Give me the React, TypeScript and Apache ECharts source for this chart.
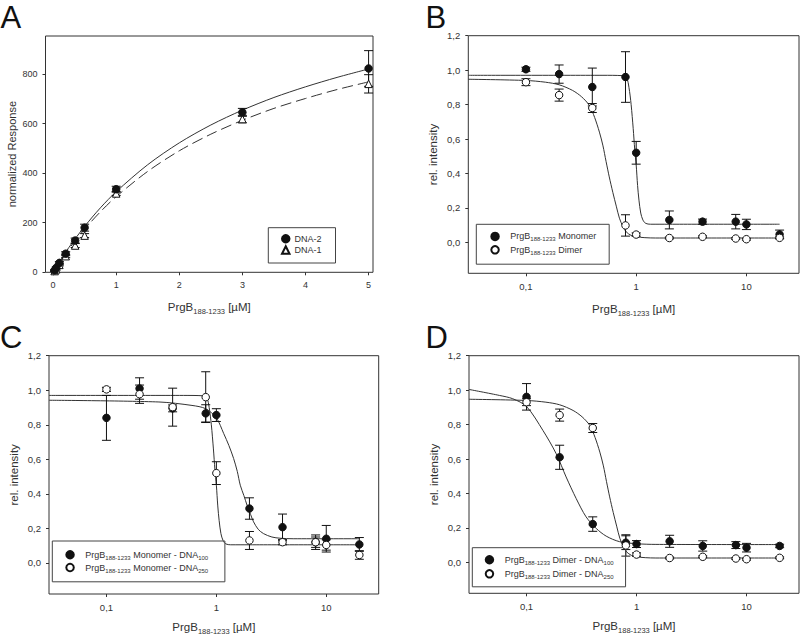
import React, { useEffect, useRef } from "react";
import * as echarts from "echarts";

// ---------- Panel A (linear) ----------
const aX = [0.025, 0.05, 0.1, 0.2, 0.35, 0.5, 1, 3, 5];
const aDNA2 = [8, 18, 38, 75, 128, 180, 335, 645, 822];
const aDNA2Err = [3, 3, 5, 8, 10, 14, 12, 16, 72];
const aDNA1 = [5, 12, 30, 65, 108, 148, 318, 618, 760];
const aDNA1Err = [2, 3, 4, 6, 8, 8, 8, 15, 37];
const aFitX = [0, 0.1, 0.25, 0.5, 0.75, 1, 1.5, 2, 2.5, 3, 3.5, 4, 4.5, 5];
const aFitDNA2 = [0, 42, 100, 185, 260, 325, 434, 522, 594, 654, 705, 748, 786, 820];
const aFitDNA1 = [0, 39, 94, 174, 244, 305, 407, 490, 557, 613, 661, 701, 737, 768];
const aXTicks = [0, 1, 2, 3, 4, 5];
const aYTicks = [0, 200, 400, 600, 800];

// ---------- Panels B, C, D (log x) ----------
const conc = [0.1, 0.2, 0.4, 0.8, 1, 2, 4, 8, 10, 20];
const monomer = [1.005, 0.977, 0.902, 0.96, 0.52, 0.13, 0.12, 0.12, 0.104, 0.046];
const monomerErr = [0.012, 0.053, 0.11, 0.147, 0.066, 0.052, 0.015, 0.042, 0.03, 0.025];
const dimer = [0.93, 0.855, 0.78, 0.098, 0.045, 0.025, 0.032, 0.022, 0.018, 0.026];
const dimerErr = [0.02, 0.035, 0.026, 0.062, 0.01, 0.005, 0.005, 0.005, 0.005, 0.005];
const monoDNA100 = [0.84, 1.01, 0.895, 0.866, 0.856, 0.315, 0.207, 0.12, 0.14, 0.107];
const monoDNA100Err = [0.13, 0.062, 0.02, 0.05, 0.037, 0.062, 0.076, 0.03, 0.077, 0.04];
const dimDNA100 = [0.961, 0.61, 0.222, 0.114, 0.106, 0.122, 0.095, 0.1, 0.085, 0.095];
const dimDNA100Err = [0.077, 0.07, 0.042, 0.04, 0.02, 0.035, 0.03, 0.02, 0.025, 0.01];

const steepFitX = [0.03, 0.5, 0.75, 0.82, 0.86, 0.9, 0.94, 0.97, 1.0, 1.03, 1.06, 1.1, 1.15, 1.22, 1.35, 2, 20];
const steepFitY = [0.97, 0.97, 0.968, 0.955, 0.9, 0.8, 0.66, 0.54, 0.45, 0.33, 0.245, 0.17, 0.13, 0.11, 0.105, 0.105, 0.105];
const dimerFitX = [0.03, 0.1, 0.15, 0.2, 0.265, 0.32, 0.376, 0.42, 0.464, 0.5, 0.533, 0.57, 0.614, 0.66, 0.705, 0.76, 0.811, 0.9, 1.0, 1.2, 1.5, 20];
const dimerFitY = [0.947, 0.94, 0.93, 0.915, 0.882, 0.845, 0.795, 0.725, 0.64, 0.56, 0.47, 0.38, 0.29, 0.21, 0.14, 0.09, 0.061, 0.04, 0.032, 0.027, 0.025, 0.025];
const mono100FitX = [0.03, 0.3, 0.6, 0.8, 1.0, 1.165, 1.3, 1.435, 1.55, 1.65, 1.78, 1.9, 2.05, 2.18, 2.4, 2.68, 3.2, 3.8, 5, 20];
const mono100FitY = [0.942, 0.932, 0.912, 0.893, 0.84, 0.75, 0.68, 0.605, 0.53, 0.45, 0.39, 0.335, 0.28, 0.238, 0.195, 0.17, 0.15, 0.143, 0.14, 0.14];
const dim100FitX = [0.03, 0.057, 0.075, 0.1, 0.141, 0.186, 0.229, 0.283, 0.348, 0.43, 0.53, 0.7, 1.0, 1.5, 20];
const dim100FitY = [1.004, 0.969, 0.95, 0.905, 0.766, 0.631, 0.496, 0.37, 0.264, 0.197, 0.152, 0.12, 0.108, 0.104, 0.103];

const relTicks = [0, 0.2, 0.4, 0.6, 0.8, 1.0, 1.2];

const panelLetters = ["A", "B", "C", "D"];

const legendLabels: Record<string, string> = {
  "A-DNA-2": "{a|DNA-2}",
  "A-DNA-1": "{a|DNA-1}",
  "B-mono": "{f|PrgB}{s|188-1233}{n| Monomer}",
  "B-dim": "{f|PrgB}{s|188-1233}{n| Dimer}",
  "C-100": "{f|PrgB}{s|188-1233}{n| Monomer - DNA}{s|100}",
  "C-250": "{f|PrgB}{s|188-1233}{n| Monomer - DNA}{s|250}",
  "D-100": "{f|PrgB}{s|188-1233}{n| Dimer - DNA}{s|100}",
  "D-250": "{f|PrgB}{s|188-1233}{n| Dimer - DNA}{s|250}",
};

const FONT = '"Liberation Sans", Arial, sans-serif';
const TXT = "#333";
const INK = "#111";
const LINE = "#333";

const pts = (xs: number[], ys: number[]) => xs.map((x, i) => [x, ys[i]]);

function errBars(name: string, xi: number, yi: number, xs: number[], ys: number[], es: number[]) {
  return {
    type: "custom",
    name: name + "-err",
    xAxisIndex: xi,
    yAxisIndex: yi,
    z: 3,
    silent: true,
    encode: { x: 0, y: [1, 2] },
    data: xs.map((x, i) => [x, ys[i] - es[i], ys[i] + es[i]]),
    renderItem: (params: any, api: any) => {
      const x = api.value(0);
      const lo = api.coord([x, api.value(1)]);
      const hi = api.coord([x, api.value(2)]);
      const cw = 4.5;
      const st = { stroke: INK, lineWidth: 1 };
      return {
        type: "group",
        children: [
          { type: "line", shape: { x1: lo[0], y1: lo[1], x2: hi[0], y2: hi[1] }, style: st },
          { type: "line", shape: { x1: lo[0] - cw, y1: lo[1], x2: lo[0] + cw, y2: lo[1] }, style: st },
          { type: "line", shape: { x1: hi[0] - cw, y1: hi[1], x2: hi[0] + cw, y2: hi[1] }, style: st },
        ],
      };
    },
  };
}

function scatter(name: string, xi: number, yi: number, xs: number[], ys: number[], symbol: string, open: boolean, size = 7.5) {
  return {
    type: "scatter",
    name,
    xAxisIndex: xi,
    yAxisIndex: yi,
    z: 4,
    symbol,
    symbolSize: size,
    itemStyle: { color: open ? "#fff" : INK, borderColor: INK, borderWidth: 1, opacity: 1 },
    data: pts(xs, ys),
  };
}

function fit(xi: number, yi: number, xs: number[], ys: number[], dashed = false) {
  return {
    type: "line",
    xAxisIndex: xi,
    yAxisIndex: yi,
    z: 2,
    silent: true,
    showSymbol: false,
    symbol: "none",
    smooth: 0.3,
    lineStyle: { color: LINE, width: 1, type: dashed ? [11, 5] : "solid" },
    data: pts(xs, ys),
  };
}

const xTitle = "{n|PrgB}{s|188-1233}{n| [µM]}";
const titleRich = {
  n: { fontSize: 11.5, fontFamily: FONT, color: TXT, lineHeight: 16 },
  s: { fontSize: 7.5, fontFamily: FONT, color: TXT, lineHeight: 9, verticalAlign: "bottom" },
};
const legendRich = {
  a: { fontSize: 9, fontFamily: FONT, color: TXT, lineHeight: 10 },
  f: { fontSize: 9, fontFamily: FONT, color: TXT, lineHeight: 12, padding: [0, 0, 0, 6.5] },
  n: { fontSize: 9, fontFamily: FONT, color: TXT, lineHeight: 12 },
  s: { fontSize: 6, fontFamily: FONT, color: TXT, lineHeight: 7, verticalAlign: "bottom" },
};

const relFmt = (v: number) => v.toFixed(1).replace(".", ",");
const logFmt = (v: number) => {
  const r = Math.round(Math.log10(v));
  if (Math.abs(Math.log10(v) - r) > 0.01) return "";
  return r < 0 ? String(Math.pow(10, r)).replace(".", ",") : String(Math.pow(10, r));
};

function logXAxis(gi: number, gap: number) {
  return {
    type: "log",
    logBase: 10,
    gridIndex: gi,
    min: 0.03,
    max: 30,
    axisLine: { show: false, onZero: false },
    splitLine: { show: false },
    minorTick: { show: false },
    axisTick: { show: true, length: 3, lineStyle: { color: LINE } },
    axisLabel: { showMinLabel: false, showMaxLabel: false, formatter: logFmt, fontSize: 9.5, fontFamily: FONT, color: TXT, margin: 8 },
    name: xTitle,
    nameLocation: "middle",
    nameGap: gap,
    nameTextStyle: { rich: titleRich },
  };
}
function relYAxis(gi: number) {
  return {
    type: "value",
    gridIndex: gi,
    min: -0.18,
    max: 1.2,
    axisLine: { show: false, onZero: false },
    splitLine: { show: false },
    axisTick: { show: true, length: 3, customValues: relTicks, lineStyle: { color: LINE } },
    axisLabel: { customValues: relTicks, formatter: relFmt, fontSize: 9.5, fontFamily: FONT, color: TXT, margin: 8 },
    name: "rel. intensity",
    nameLocation: "middle",
    nameGap: 29,
    nameTextStyle: { fontSize: 11.5, fontFamily: FONT, color: TXT },
  };
}

const gridBase = { show: true, borderColor: "#333", borderWidth: 1, backgroundColor: "transparent", containLabel: false, outerBoundsMode: "none" };

function legendBox(left: number, top: number, padding: number[], gap: number, data: string[]) {
  return {
    orient: "vertical",
    left,
    top,
    padding,
    itemGap: gap,
    itemWidth: 7.5,
    itemHeight: 7.5,
    borderColor: "#444",
    borderWidth: 1,
    data,
    formatter: (n: string) => legendLabels[n],
    textStyle: { rich: legendRich },
  };
}

const letterStyle = { fontSize: 31, fontFamily: '"Liberation Sans", Arial, sans-serif', fill: INK, verticalAlign: "middle", align: "left" };

function buildOption() {
  return {
    animation: false,
    backgroundColor: "#fff",
    textStyle: { fontFamily: FONT },
    grid: [
      { ...gridBase, left: 45.5, top: 36, width: 327.5, height: 236.3 },
      { ...gridBase, left: 468.3, top: 35.7, width: 330.7, height: 237.6 },
      { ...gridBase, left: 49, top: 355.7, width: 329.7, height: 238.3 },
      { ...gridBase, left: 469, top: 355.7, width: 330, height: 237.6 },
    ],
    xAxis: [
      {
        type: "value",
        gridIndex: 0,
        min: -0.12,
        max: 5.07,
        axisLine: { show: false, onZero: false },
        splitLine: { show: false },
        axisTick: { show: true, length: 3, customValues: aXTicks, lineStyle: { color: LINE } },
        axisLabel: { customValues: aXTicks, fontSize: 9, fontFamily: FONT, color: TXT, margin: 8 },
        name: xTitle,
        nameLocation: "middle",
        nameGap: 27,
        nameTextStyle: { rich: titleRich },
      },
      logXAxis(1, 28),
      logXAxis(2, 25),
      logXAxis(3, 25),
    ],
    yAxis: [
      {
        type: "value",
        gridIndex: 0,
        min: 0,
        max: 953,
        axisLine: { show: false, onZero: false },
        splitLine: { show: false },
        axisTick: { show: true, length: 3, customValues: aYTicks, lineStyle: { color: LINE } },
        axisLabel: { customValues: aYTicks, fontSize: 9, fontFamily: FONT, color: TXT, margin: 8 },
        name: "normalized Response",
        nameLocation: "middle",
        nameGap: 28,
        nameTextStyle: { fontSize: 11, fontFamily: FONT, color: TXT },
      },
      relYAxis(1),
      relYAxis(2),
      relYAxis(3),
    ],
    legend: [
      legendBox(268.3, 227.7, [6.3, 14, 8.3, 12.7], 1.7, ["A-DNA-2", "A-DNA-1"]),
      legendBox(476.3, 224.3, [7.4, 13, 8.4, 14], 2.6, ["B-mono", "B-dim"]),
      legendBox(52.3, 541, [9, 16.7, 8.3, 13], 2, ["C-100", "C-250"]),
      legendBox(472.3, 547.7, [7.3, 12, 7, 12.4], 3.3, ["D-100", "D-250"]),
    ],
    graphic: [
      { type: "text", x: 0.5, y: 17.8, style: { text: panelLetters[0], ...letterStyle } },
      { type: "text", x: 425.5, y: 17.8, style: { text: panelLetters[1], ...letterStyle } },
      { type: "text", x: 0, y: 337.8, style: { text: panelLetters[2], ...letterStyle } },
      { type: "text", x: 425.5, y: 337.8, style: { text: panelLetters[3], ...letterStyle } },
    ],
    series: [
      // A
      fit(0, 0, aFitX, aFitDNA2),
      fit(0, 0, aFitX, aFitDNA1, true),
      errBars("A-DNA-2", 0, 0, aX, aDNA2, aDNA2Err),
      errBars("A-DNA-1", 0, 0, aX, aDNA1, aDNA1Err),
      scatter("A-DNA-1", 0, 0, aX, aDNA1, "triangle", true, 7.5),
      scatter("A-DNA-2", 0, 0, aX, aDNA2, "circle", false),
      // B
      fit(1, 1, steepFitX, steepFitY),
      fit(1, 1, dimerFitX, dimerFitY),
      errBars("B-mono", 1, 1, conc, monomer, monomerErr),
      errBars("B-dim", 1, 1, conc, dimer, dimerErr),
      scatter("B-mono", 1, 1, conc, monomer, "circle", false),
      scatter("B-dim", 1, 1, conc, dimer, "circle", true),
      // C
      fit(2, 2, steepFitX, steepFitY),
      fit(2, 2, mono100FitX, mono100FitY),
      errBars("C-100", 2, 2, conc, monoDNA100, monoDNA100Err),
      errBars("C-250", 2, 2, conc, monomer, monomerErr),
      scatter("C-100", 2, 2, conc, monoDNA100, "circle", false),
      scatter("C-250", 2, 2, conc, monomer, "circle", true),
      // D
      fit(3, 3, dimerFitX, dimerFitY),
      fit(3, 3, dim100FitX, dim100FitY),
      errBars("D-100", 3, 3, conc, dimDNA100, dimDNA100Err),
      errBars("D-250", 3, 3, conc, dimer, dimerErr),
      scatter("D-100", 3, 3, conc, dimDNA100, "circle", false),
      scatter("D-250", 3, 3, conc, dimer, "circle", true),
    ],
  };
}

export default function App() {
  const ref = useRef<HTMLDivElement>(null);
  useEffect(() => {
    if (!ref.current) return;
    const chart = echarts.init(ref.current, undefined, { renderer: "svg" });
    chart.setOption(buildOption() as any);
    return () => chart.dispose();
  }, []);
  return (
    <div
      ref={ref}
      style={{ position: "fixed", left: 0, top: 0, width: 800, height: 635, background: "#fff" }}
    />
  );
}
